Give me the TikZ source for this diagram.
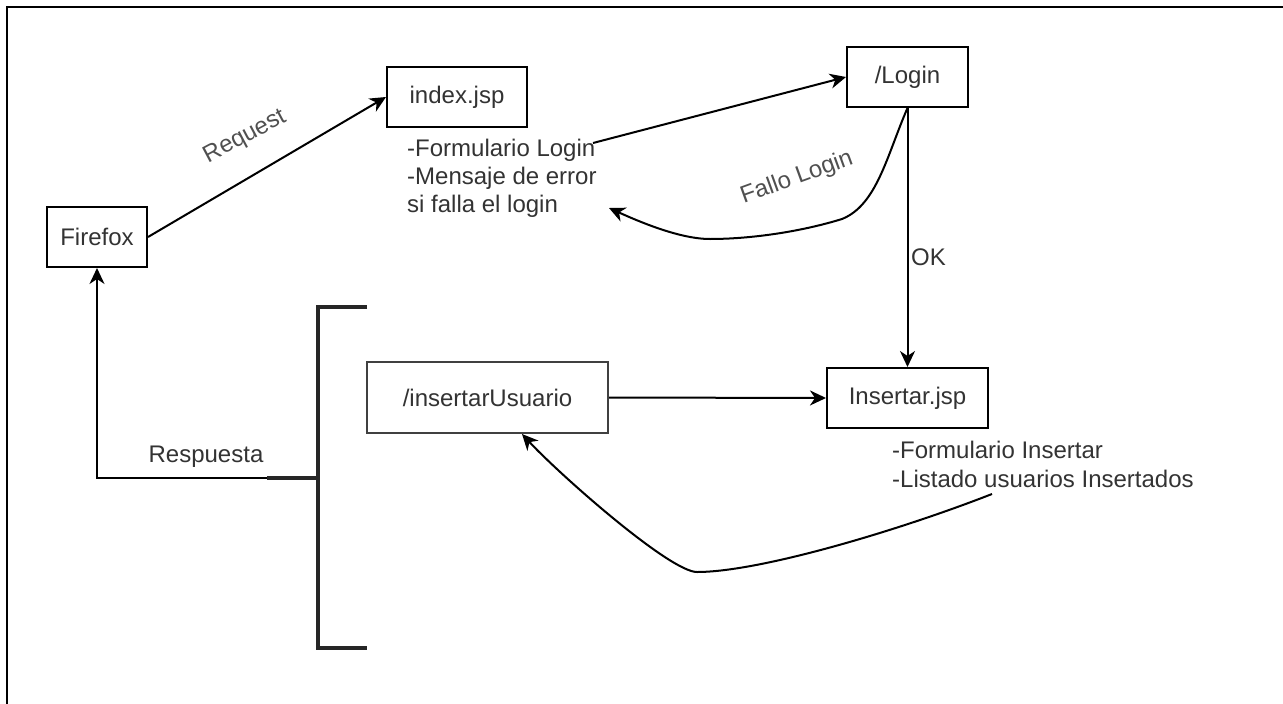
\documentclass[tikz,border=0pt]{standalone}
\usepackage{fontspec}
\setmainfont{Liberation Sans}
\usetikzlibrary{arrows.meta}
\definecolor{txt}{HTML}{333333}
\definecolor{lblc}{HTML}{505050}
\begin{document}
\begin{tikzpicture}[x=1pt,y=-1pt,
  box/.style={draw=black, line width=2pt, inner sep=0pt, text=txt,
    font=\fontsize{24}{28}\selectfont},
  note/.style={align=left, inner sep=0pt, text=txt},
  lbl/.style={inner sep=0pt, text=lblc, font=\fontsize{24}{28}\selectfont},
  conn/.style={line width=2pt, -{Stealth[length=16pt,width=15pt,inset=5pt]}},
  thick3/.style={line width=3.5pt, draw=black!85}]
\useasboundingbox (0,0) rectangle (1283,704);
\fill[white] (0,0) rectangle (1283,704);
% frame
\draw[line width=2.5pt] (7,704) -- (7,7) -- (1283,7);

% boxes
\node[box, minimum width=100pt, minimum height=60pt] (ff) at (97,237) {Firefox};
\node[box, minimum width=140pt, minimum height=60pt] (idx) at (457,97) {index.jsp};
\node[box, minimum width=121pt, minimum height=60pt] (login) at (907.5,77) {/Login};
\node[box, minimum width=161pt, minimum height=60pt] (ins) at (907.5,398) {Insertar.jsp};
\node[box, draw=black!75, minimum width=241pt, minimum height=71pt] (iu) at (487.5,397.5) {/insertarUsuario};

% text blocks
\node[note, font=\fontsize{24}{28}\selectfont, anchor=north west] (idxtxt) at (407,139)
  {-Formulario Login\\-Mensaje de error\\si falla el login};
\node[note, font=\fontsize{24}{29}\selectfont, anchor=north west] (instxt) at (892,441)
  {-Formulario Insertar\\-Listado usuarios Insertados};

% bracket
\draw[thick3] (367,307) -- (318,307) -- (318,648) -- (367,648);
\coordinate (resp) at (267,478);
\draw[thick3] (resp) -- (318,478);

% free ends
\coordinate (lgstart) at (593,143);
\coordinate (fltip) at (609,208);
\coordinate (insstart) at (992,494);

% connectors
\draw[conn] (ff.east) -- (idx.west);
\draw[conn] (lgstart) -- (login.west);
\draw[conn] (login.south) .. controls (887,155) and (877,205) .. (842,219)
  .. controls (800,232) and (750,239) .. (710,239)
  .. controls (680,239) and (640,222) .. (fltip);
\draw[conn] (login.south) -- (ins.north);
\draw[conn] (iu.east) -- (ins.west);
\draw[conn] (insstart) .. controls (900,530) and (760,572) .. (697,572)
  .. controls (670,572) and (560,475) .. ([xshift=34.5pt]iu.south);
\draw[conn] (resp) -| (ff.south);

% labels
\node[lbl, rotate=28] (req) at (245,137) {Request};
\node[lbl, rotate=20] (fallo) at (797,178) {Fallo Login};
\node[lbl, text=txt, anchor=west] (ok) at (911,257) {OK};
\node[lbl, text=txt] (respl) at (206,457) {Respuesta};
\end{tikzpicture}
\end{document}
